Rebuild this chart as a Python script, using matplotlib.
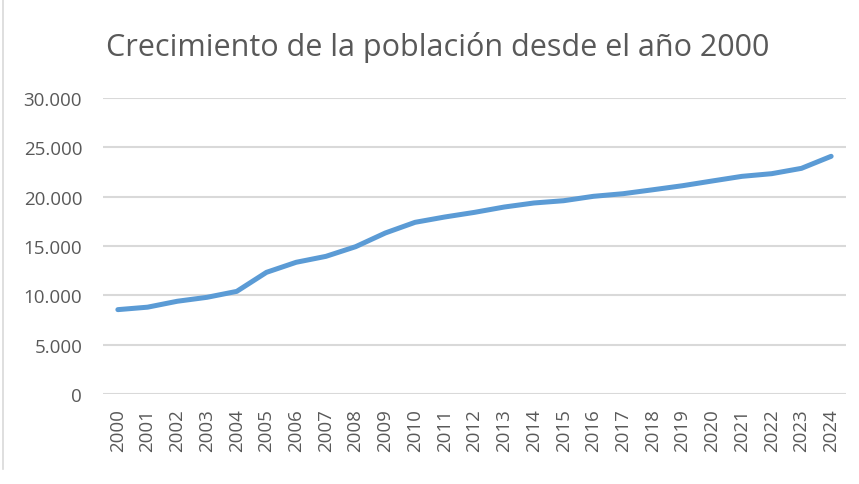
import matplotlib
matplotlib.use("Agg")
import matplotlib.pyplot as plt
from matplotlib.ticker import FuncFormatter
from matplotlib.lines import Line2D

years = [str(y) for y in range(2000, 2025)]
population = [8550, 8800, 9400, 9800, 10400, 12330, 13350, 13950, 14930, 16320,
              17400, 17940, 18410, 18950, 19360, 19590, 20035, 20300, 20700, 21110,
              21590, 22060, 22330, 22870, 24090]
y_ticks = [0, 5000, 10000, 15000, 20000, 25000, 30000]
title = "Crecimiento de la población desde el año 2000"

plt.rcParams['font.family'] = ['Open Sans', 'DejaVu Sans']
gray = "#595959"

fig = plt.figure(figsize=(8.59, 4.85), dpi=100)
ax = fig.add_axes([103/859, 1-395/485, (846-103)/859, (395-99)/485])

x = list(range(len(years)))
ax.plot(x, population, color="#5B9BD5", linewidth=3.6, solid_capstyle="round",
        solid_joinstyle="round", zorder=3)

ax.set_xlim(-0.5, len(years) - 0.5)
ax.set_ylim(0, 30000)
ax.set_yticks(y_ticks)
ax.yaxis.set_major_formatter(FuncFormatter(lambda v, p: f"{int(v):,}".replace(",", ".")))
ax.set_xticks(x)
ax.set_xticklabels(years, rotation=90)
ax.grid(axis="y", color="#d9d9d9", linewidth=1.5)
ax.set_axisbelow(True)
for s in ax.spines.values():
    s.set_visible(False)
ax.tick_params(axis="both", length=0, colors=gray, labelsize=13.5)
ax.tick_params(axis="y", pad=15)
ax.tick_params(axis="x", pad=10)

fig.text(0.51, 0.902, title, ha="center", va="center", fontsize=22, color=gray)

fig.add_artist(Line2D([3/859, 3/859], [0.03, 1.0], transform=fig.transFigure,
                      color="#d9d9d9", linewidth=1.2))

fig.savefig("out.png", dpi=100)
